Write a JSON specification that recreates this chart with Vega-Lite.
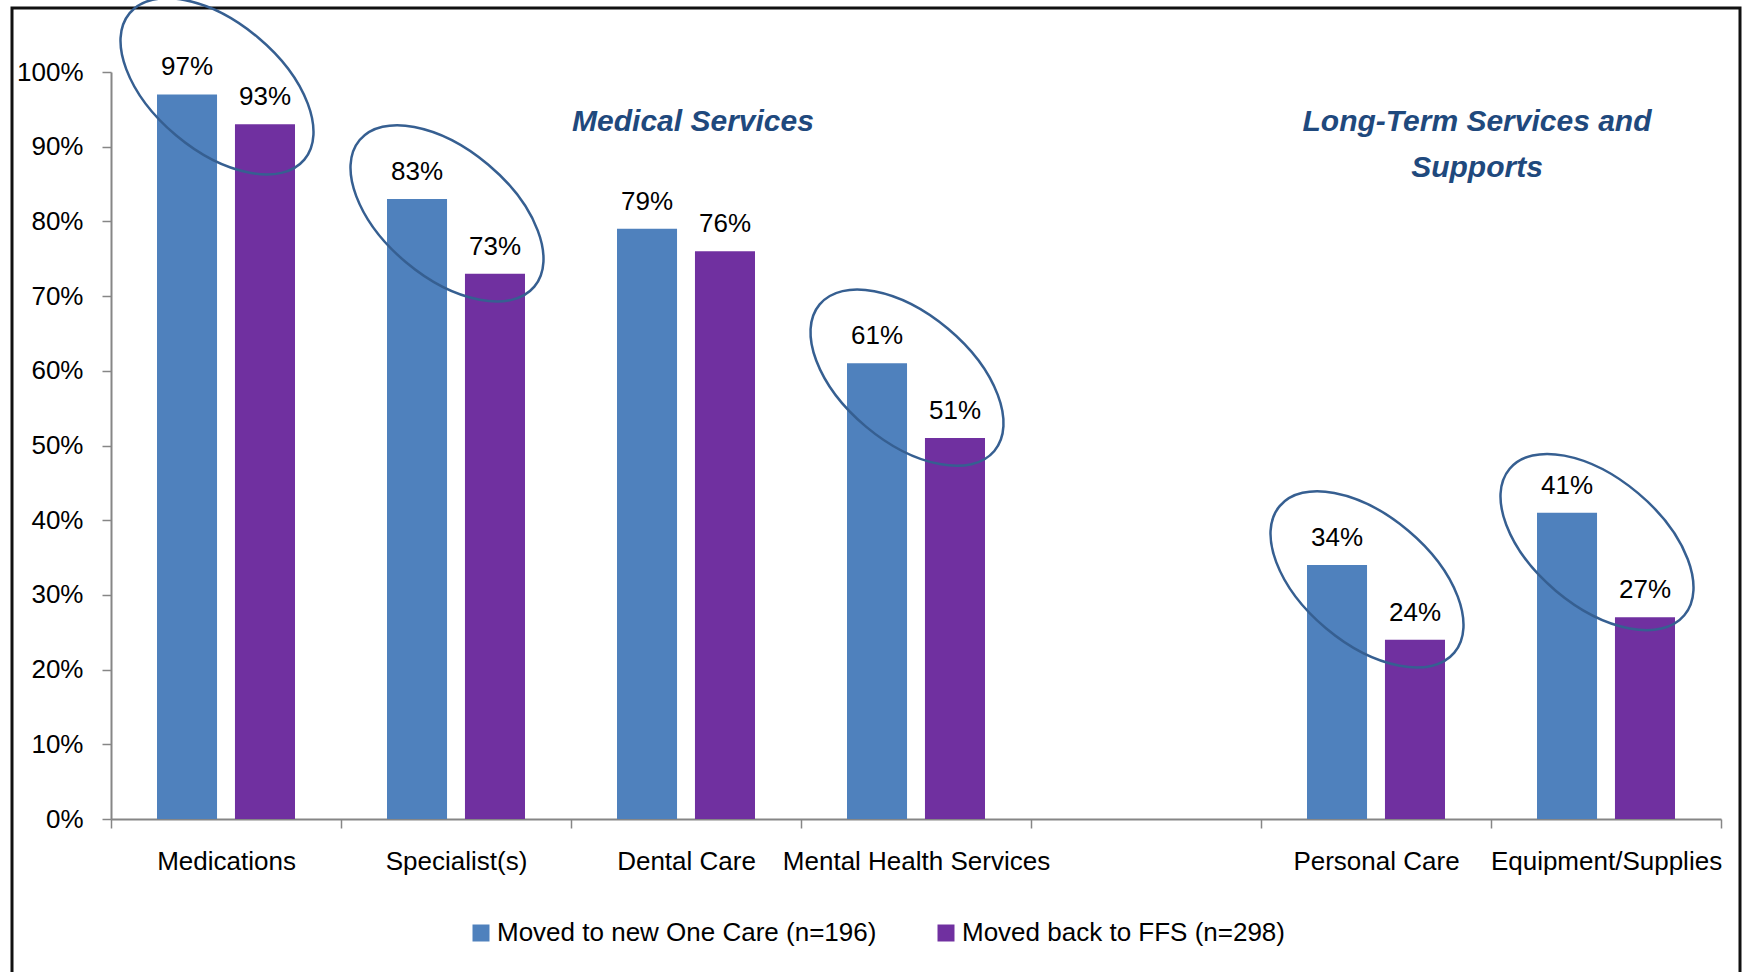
{
  "$schema": "https://vega.github.io/schema/vega-lite/v6.json",
  "width": 1728,
  "height": 968,
  "autosize": {"type": "none"},
  "padding": {"left": 12, "top": 8, "right": 5, "bottom": -4},
  "background": "#ffffff",
  "config": {
    "view": {"stroke": "#111111", "strokeWidth": 3},
    "font": "Liberation Sans",
    "text": {"font": "Liberation Sans"}
  },
  "datasets": {
    "rates": [
      {"category": "Medications", "series": "Moved to new One Care (n=196)", "value": 0.97},
      {"category": "Medications", "series": "Moved back to FFS (n=298)", "value": 0.93},
      {"category": "Specialist(s)", "series": "Moved to new One Care (n=196)", "value": 0.83},
      {"category": "Specialist(s)", "series": "Moved back to FFS (n=298)", "value": 0.73},
      {"category": "Dental Care", "series": "Moved to new One Care (n=196)", "value": 0.79},
      {"category": "Dental Care", "series": "Moved back to FFS (n=298)", "value": 0.76},
      {"category": "Mental Health Services", "series": "Moved to new One Care (n=196)", "value": 0.61},
      {"category": "Mental Health Services", "series": "Moved back to FFS (n=298)", "value": 0.51},
      {"category": "Personal Care", "series": "Moved to new One Care (n=196)", "value": 0.34},
      {"category": "Personal Care", "series": "Moved back to FFS (n=298)", "value": 0.24},
      {"category": "Equipment/Supplies", "series": "Moved to new One Care (n=196)", "value": 0.41},
      {"category": "Equipment/Supplies", "series": "Moved back to FFS (n=298)", "value": 0.27}
    ]
  },
  "layer": [
    {
      "data": {"name": "rates"},
      "mark": {"type": "bar"},
      "encoding": {
        "x": {
          "field": "category",
          "type": "nominal",
          "scale": {
            "domain": ["Medications", "Specialist(s)", "Dental Care", "Mental Health Services", " ", "Personal Care", "Equipment/Supplies"],
            "range": [99, 1709],
            "paddingInner": 0,
            "paddingOuter": 0
          },
          "axis": {
            "title": null,
            "orient": "bottom",
            "offset": -157,
            "tickBand": "extent",
            "domainColor": "#868686",
            "domainWidth": 2,
            "tickColor": "#868686",
            "tickWidth": 1.5,
            "tickSize": 9,
            "labelPadding": 20,
            "labelFontSize": 26,
            "labelFont": "Liberation Sans",
            "labelColor": "#000000",
            "labelAngle": 0,
            "labelOverlap": false,
            "labelLimit": 0,
            "grid": false
          }
        },
        "xOffset": {
          "field": "series",
          "type": "nominal",
          "scale": {
            "domain": ["Moved to new One Care (n=196)", "Moved back to FFS (n=298)"],
            "paddingInner": 0.23,
            "paddingOuter": 0.59
          }
        },
        "y": {
          "field": "value",
          "type": "quantitative",
          "scale": {"domain": [0, 1], "range": [811, 64]},
          "axis": {
            "title": null,
            "offset": -99,
            "values": [0, 0.1, 0.2, 0.3, 0.4, 0.5, 0.6, 0.7, 0.8, 0.9, 1],
            "format": ".0%",
            "domainColor": "#868686",
            "domainWidth": 2,
            "tickColor": "#868686",
            "tickWidth": 1.5,
            "tickSize": 9,
            "labelPadding": 19,
            "labelFontSize": 26,
            "labelFont": "Liberation Sans",
            "labelColor": "#000000",
            "grid": false
          }
        },
        "color": {
          "field": "series",
          "type": "nominal",
          "scale": {
            "domain": ["Moved to new One Care (n=196)", "Moved back to FFS (n=298)"],
            "range": ["#4F81BD", "#7030A0"]
          },
          "legend": {
            "title": null,
            "orient": "none",
            "legendX": 456,
            "legendY": 912,
            "direction": "horizontal",
            "symbolType": "square",
            "symbolSize": 289,
            "symbolStrokeWidth": 0,
            "labelFontSize": 26,
            "labelFont": "Liberation Sans",
            "labelColor": "#000000",
            "labelOffset": 3,
            "columnPadding": 56,
            "padding": 0,
            "labelLimit": 0
          }
        }
      }
    },
    {
      "data": {"name": "rates"},
      "mark": {"type": "text", "baseline": "alphabetic", "align": "center", "dy": -19, "fontSize": 26, "color": "#000000"},
      "encoding": {
        "x": {"field": "category", "type": "nominal"},
        "xOffset": {"field": "series", "type": "nominal"},
        "y": {"field": "value", "type": "quantitative"},
        "text": {"field": "value", "type": "quantitative", "format": ".0%"}
      }
    },
    {
      "data": {"name": "rates"},
      "transform": [
        {"filter": "datum.category !== 'Dental Care'"},
        {"aggregate": [{"op": "mean", "field": "value", "as": "pair_mean"}], "groupby": ["category"]}
      ],
      "mark": {
        "type": "point",
        "shape": "M 1 0 C 1 0.3093 0.5523 0.56 0 0.56 C -0.5523 0.56 -1 0.3093 -1 0 C -1 -0.3093 -0.5523 -0.56 0 -0.56 C 0.5523 -0.56 1 -0.3093 1 0 Z",
        "size": 51984,
        "angle": 40,
        "filled": false,
        "stroke": "#365F91",
        "strokeWidth": 2.5,
        "opacity": 1,
        "xOffset": -9,
        "yOffset": -23
      },
      "encoding": {
        "x": {"field": "category", "type": "nominal"},
        "y": {"field": "pair_mean", "type": "quantitative"}
      }
    },
    {
      "data": {"values": [{"label": "Medical Services"}]},
      "mark": {"type": "text", "align": "center", "baseline": "alphabetic", "dx": 7, "fontSize": 30, "fontStyle": "italic", "fontWeight": "bold", "color": "#1F497D"},
      "encoding": {
        "x": {"datum": "Dental Care"},
        "y": {"datum": 0.921},
        "text": {"field": "label"}
      }
    },
    {
      "data": {"values": [{"label": "Long-Term Services and\nSupports"}]},
      "mark": {"type": "text", "align": "center", "baseline": "alphabetic", "dx": -14, "fontSize": 30, "fontStyle": "italic", "fontWeight": "bold", "color": "#1F497D", "lineBreak": "\n", "lineHeight": 46},
      "encoding": {
        "x": {"datum": "Equipment/Supplies", "bandPosition": 0},
        "y": {"datum": 0.921},
        "text": {"field": "label"}
      }
    }
  ]
}
